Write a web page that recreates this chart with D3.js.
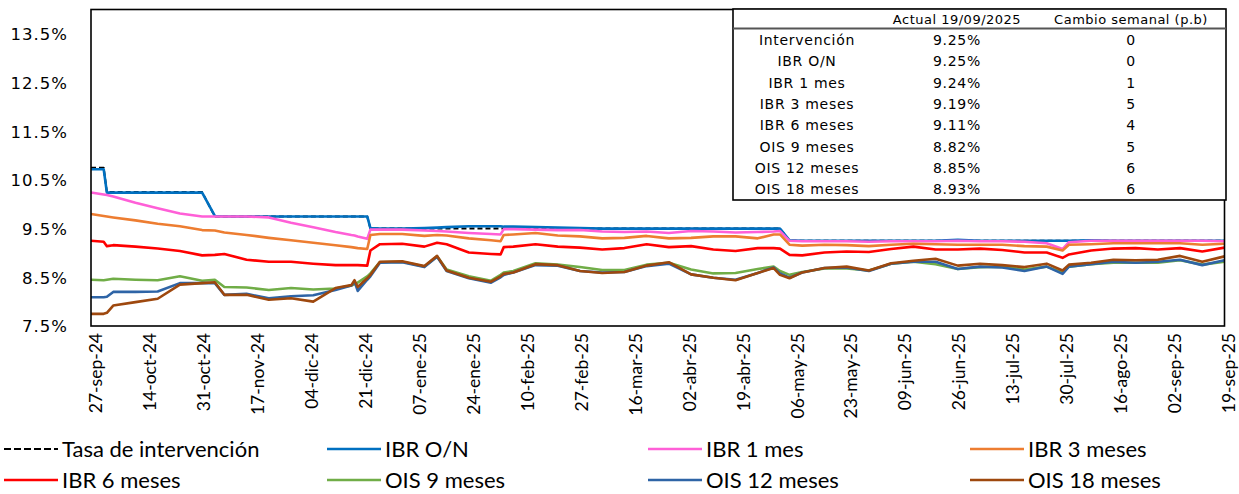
<!DOCTYPE html>
<html><head><meta charset="utf-8">
<script src="https://cdn.jsdelivr.net/npm/d3@7"></script>
<style>
body{margin:0;background:#fff;}
svg{display:block;}
</style></head><body>
<svg id="c" width="1239" height="494"></svg>
<script>
// ---------- DATA ----------
const dates = [
"2024-09-27","2024-10-01","2024-10-02","2024-10-04","2024-10-11","2024-10-18","2024-10-25","2024-11-01","2024-11-05","2024-11-08","2024-11-15","2024-11-22","2024-11-29",
"2024-12-06","2024-12-13","2024-12-18","2024-12-19","2024-12-20","2024-12-23","2024-12-24","2024-12-27",
"2025-01-03","2025-01-10","2025-01-14","2025-01-17","2025-01-24","2025-01-31","2025-02-03","2025-02-04","2025-02-07","2025-02-14","2025-02-21","2025-02-28",
"2025-03-07","2025-03-14","2025-03-21","2025-03-28","2025-04-04","2025-04-11","2025-04-18","2025-04-25","2025-04-30","2025-05-02","2025-05-05","2025-05-09","2025-05-16","2025-05-23","2025-05-30",
"2025-06-06","2025-06-13","2025-06-20","2025-06-27","2025-07-04","2025-07-11","2025-07-18","2025-07-25","2025-07-30","2025-08-01","2025-08-08","2025-08-15","2025-08-22","2025-08-29","2025-09-05","2025-09-12","2025-09-19"];

const tasaIntervencion = [
10.75,10.75,10.25,10.25,10.25,10.25,10.25,10.25,9.75,9.75,9.75,9.75,9.75,
9.75,9.75,9.75,9.75,9.75,9.75,9.50,9.50,
9.50,9.50,9.50,9.50,9.50,9.50,9.50,9.50,9.50,9.50,9.50,9.50,
9.50,9.50,9.50,9.50,9.50,9.50,9.50,9.50,9.50,9.50,9.25,9.25,9.25,9.25,9.25,
9.25,9.25,9.25,9.25,9.25,9.25,9.25,9.25,9.25,9.25,9.25,9.25,9.25,9.25,9.25,9.25,9.25];

const ibrON = [
10.72,10.72,10.24,10.24,10.24,10.24,10.24,10.24,9.76,9.75,9.75,9.75,9.75,
9.75,9.75,9.75,9.75,9.75,9.75,9.51,9.50,
9.50,9.51,9.52,9.53,9.55,9.55,9.55,9.54,9.54,9.53,9.52,9.51,
9.50,9.50,9.50,9.50,9.50,9.50,9.50,9.50,9.50,9.50,9.26,9.25,9.25,9.25,9.25,
9.25,9.25,9.25,9.27,9.25,9.25,9.25,9.25,9.25,9.25,9.26,9.25,9.25,9.25,9.25,9.25,9.25];

const ibr1m = [
10.24,10.20,10.19,10.16,10.03,9.92,9.81,9.75,9.75,9.75,9.75,9.73,9.62,
9.53,9.43,9.37,9.36,9.34,9.29,9.48,9.48,
9.48,9.46,9.45,9.44,9.41,9.39,9.38,9.49,9.49,9.48,9.47,9.47,
9.44,9.43,9.44,9.41,9.45,9.44,9.42,9.43,9.44,9.45,9.25,9.24,9.24,9.24,9.23,
9.24,9.24,9.24,9.25,9.24,9.24,9.23,9.20,9.08,9.22,9.25,9.25,9.25,9.25,9.25,9.25,9.24];

const ibr3m = [
9.80,9.76,9.75,9.73,9.67,9.60,9.55,9.47,9.46,9.42,9.37,9.31,9.26,
9.21,9.16,9.12,9.11,9.10,9.08,9.37,9.39,
9.39,9.35,9.37,9.36,9.30,9.26,9.24,9.37,9.38,9.41,9.36,9.34,
9.30,9.31,9.35,9.30,9.31,9.34,9.34,9.30,9.38,9.38,9.17,9.15,9.17,9.16,9.14,
9.17,9.19,9.18,9.17,9.17,9.17,9.14,9.13,9.05,9.17,9.18,9.20,9.20,9.20,9.20,9.17,9.19];

const ibr6m = [
9.25,9.23,9.14,9.16,9.13,9.09,9.04,8.95,8.96,8.98,8.86,8.82,8.82,
8.78,8.75,8.75,8.75,8.75,8.74,9.05,9.18,
9.19,9.13,9.21,9.18,9.01,8.98,8.97,9.12,9.13,9.18,9.13,9.11,
9.07,9.10,9.18,9.12,9.14,9.07,9.04,9.10,9.10,9.09,8.96,8.95,9.01,9.03,9.02,
9.08,9.13,9.07,9.07,9.09,9.06,9.01,9.01,8.90,8.97,9.05,9.09,9.10,9.07,9.10,9.03,9.11];

const ois9m = [
8.45,8.44,8.45,8.47,8.45,8.44,8.52,8.43,8.45,8.30,8.29,8.24,8.28,
8.25,8.27,8.33,8.36,8.39,8.52,8.58,8.81,
8.82,8.72,8.93,8.66,8.52,8.43,8.55,8.60,8.63,8.79,8.76,8.71,
8.65,8.65,8.76,8.80,8.66,8.58,8.59,8.67,8.72,8.63,8.55,8.61,8.68,8.68,8.64,
8.78,8.82,8.77,8.67,8.71,8.72,8.66,8.72,8.60,8.72,8.77,8.80,8.80,8.80,8.85,8.76,8.82];

const ois12m = [
8.09,8.09,8.10,8.20,8.20,8.21,8.38,8.38,8.38,8.14,8.16,8.07,8.11,
8.13,8.24,8.33,8.41,8.22,8.45,8.52,8.80,
8.81,8.71,8.92,8.63,8.48,8.39,8.50,8.55,8.60,8.75,8.74,8.63,
8.60,8.61,8.73,8.78,8.56,8.49,8.45,8.59,8.70,8.58,8.49,8.60,8.69,8.70,8.63,
8.78,8.82,8.82,8.67,8.72,8.70,8.63,8.72,8.57,8.72,8.77,8.82,8.80,8.82,8.86,8.75,8.85];

const ois18m = [
7.75,7.75,7.77,7.92,7.99,8.06,8.35,8.38,8.40,8.14,8.14,8.04,8.07,
8.00,8.28,8.34,8.44,8.30,8.48,8.55,8.82,
8.83,8.73,8.94,8.64,8.49,8.41,8.52,8.57,8.60,8.77,8.75,8.63,
8.59,8.61,8.74,8.81,8.56,8.49,8.44,8.59,8.69,8.55,8.48,8.60,8.69,8.72,8.64,
8.79,8.84,8.88,8.74,8.78,8.75,8.71,8.78,8.64,8.76,8.80,8.86,8.85,8.86,8.94,8.82,8.93];

const seriesNames = ["Tasa de intervención","IBR O/N","IBR 1 mes","IBR 3 meses","IBR 6 meses","OIS 9 meses","OIS 12 meses","OIS 18 meses"];
const seriesValues = [tasaIntervencion, ibrON, ibr1m, ibr3m, ibr6m, ois9m, ois12m, ois18m];

const xTickLabels = ["27-sep-24","14-oct-24","31-oct-24","17-nov-24","04-dic-24","21-dic-24","07-ene-25","24-ene-25","10-feb-25","27-feb-25","16-mar-25",
"02-abr-25","19-abr-25","06-may-25","23-may-25","09-jun-25","26-jun-25","13-jul-25","30-jul-25","16-ago-25","02-sep-25","19-sep-25"];
const yTicks = [7.5,8.5,9.5,10.5,11.5,12.5,13.5];

const tableHeader = ["", "Actual 19/09/2025", "Cambio semanal (p.b)"];
const tableNames = ["Intervención","IBR O/N","IBR 1 mes","IBR 3 meses","IBR 6 meses","OIS 9 meses","OIS 12 meses","OIS 18 meses"];
const tableActual = ["9.25%","9.25%","9.24%","9.19%","9.11%","8.82%","8.85%","8.93%"];
const tableChange = ["0","0","1","5","4","5","6","6"];

// ---------- STYLE ----------
const colors = ["#000000","#0070C0","#FF5FD7","#ED7D31","#FF0000","#70AD47","#2E64A6","#9E480E"];
const plot = {l:91, r:1224.5, t:9.5, b:326};

const svg = d3.select("#c");
const parse = d3.timeParse("%Y-%m-%d");
const monthMap = {ene:0,feb:1,mar:2,abr:3,may:4,jun:5,jul:6,ago:7,sep:8,oct:9,nov:10,dic:11};
function parseTick(s){ const [d,m,y]=s.split("-"); return new Date(2000+ +y, monthMap[m], +d); }

const x = d3.scaleTime().domain([parse(dates[0]), parse(dates[dates.length-1])]).range([plot.l, plot.r]);
const y = d3.scaleLinear().domain([7.5,14]).range([plot.b, plot.t]);

// y axis labels
const yAxis = d3.axisLeft(y).tickValues(yTicks).tickSize(0).tickPadding(0).tickFormat(d=>d.toFixed(1)+"%");
const gy = svg.append("g").attr("transform","translate(68,0)").call(yAxis);
gy.select(".domain").remove();
gy.selectAll("text").attr("font-family","DejaVu Sans, Verdana, sans-serif").attr("font-size",16.5)
  .attr("letter-spacing","1px").attr("fill","#000").attr("dy","0.36em");

// x axis labels
const xAxis = d3.axisBottom(x).tickValues(xTickLabels.map(parseTick)).tickSize(0)
  .tickFormat((d,i)=>xTickLabels[i]);
const gx = svg.append("g").attr("transform",`translate(0,${plot.b})`).call(xAxis);
gx.select(".domain").remove();
gx.selectAll("text").attr("font-family","Lato, Calibri, sans-serif").attr("font-size",17.5).attr("fill","#000")
  .attr("text-anchor","end").attr("y",0).attr("dy","0.36em")
  .attr("transform","translate(4,7) rotate(-90)");

// lines
const line = d3.line().x(d=>x(d.date)).y(d=>y(d.v));
seriesValues.forEach((vals,si)=>{
  const pts = dates.map((dt,i)=>({date:parse(dt), v:vals[i]})).filter(p=>p.v!=null);
  svg.append("path").datum(pts).attr("d",line).attr("fill","none")
    .attr("stroke",colors[si]).attr("stroke-width", si===0?2:2.6)
    .attr("stroke-linejoin","round")
    .attr("stroke-dasharray", si===0?"5,3":null);
});

// plot border
svg.append("rect").attr("x",plot.l).attr("y",plot.t).attr("width",plot.r-plot.l).attr("height",plot.b-plot.t)
  .attr("fill","none").attr("stroke","#000").attr("stroke-width",1.6);

// table
const tb = {x:733, y:9, w:493, h:191};
const tg = svg.append("g");
tg.append("rect").attr("x",tb.x).attr("y",tb.y).attr("width",tb.w).attr("height",tb.h)
  .attr("fill","#fff").attr("stroke","#000").attr("stroke-width",1.6);
tg.append("line").attr("x1",tb.x).attr("x2",tb.x+tb.w).attr("y1",28.5).attr("y2",28.5)
  .attr("stroke","#555").attr("stroke-width",2);
const colX = [807, 957, 1131];
tableHeader.forEach((t,i)=>{
  tg.append("text").attr("x",colX[i]).attr("y",19).attr("dy","0.36em").attr("text-anchor","middle")
    .attr("font-family","DejaVu Sans, Verdana, sans-serif").attr("font-size",13).attr("letter-spacing","0.5px").text(t);
});
const rowY = i => 40 + i*21.35;
[tableNames, tableActual, tableChange].forEach((col,ci)=>{
  col.forEach((t,i)=>{
    tg.append("text").attr("x",colX[ci]).attr("y",rowY(i)).attr("dy","0.36em").attr("text-anchor","middle")
      .attr("font-family","DejaVu Sans, Verdana, sans-serif").attr("font-size",14).attr("letter-spacing","0.7px").text(t);
  });
});

// legend
const legX = [4, 327, 648, 970], legY = [449, 480];
seriesNames.forEach((n,i)=>{
  const cx = legX[i%4], cy = legY[Math.floor(i/4)];
  const g = svg.append("g");
  g.append("line").attr("x1",cx).attr("x2",cx+54).attr("y1",cy).attr("y2",cy)
    .attr("stroke",colors[i]).attr("stroke-width",i===0?2:2.6).attr("stroke-dasharray",i===0?"7,3":null);
  g.append("text").attr("x",cx+58).attr("y",cy).attr("dy","0.35em")
    .attr("font-family","Lato, Calibri, sans-serif").attr("font-size",22).attr("fill","#000").text(n);
});
</script>
</body></html>
